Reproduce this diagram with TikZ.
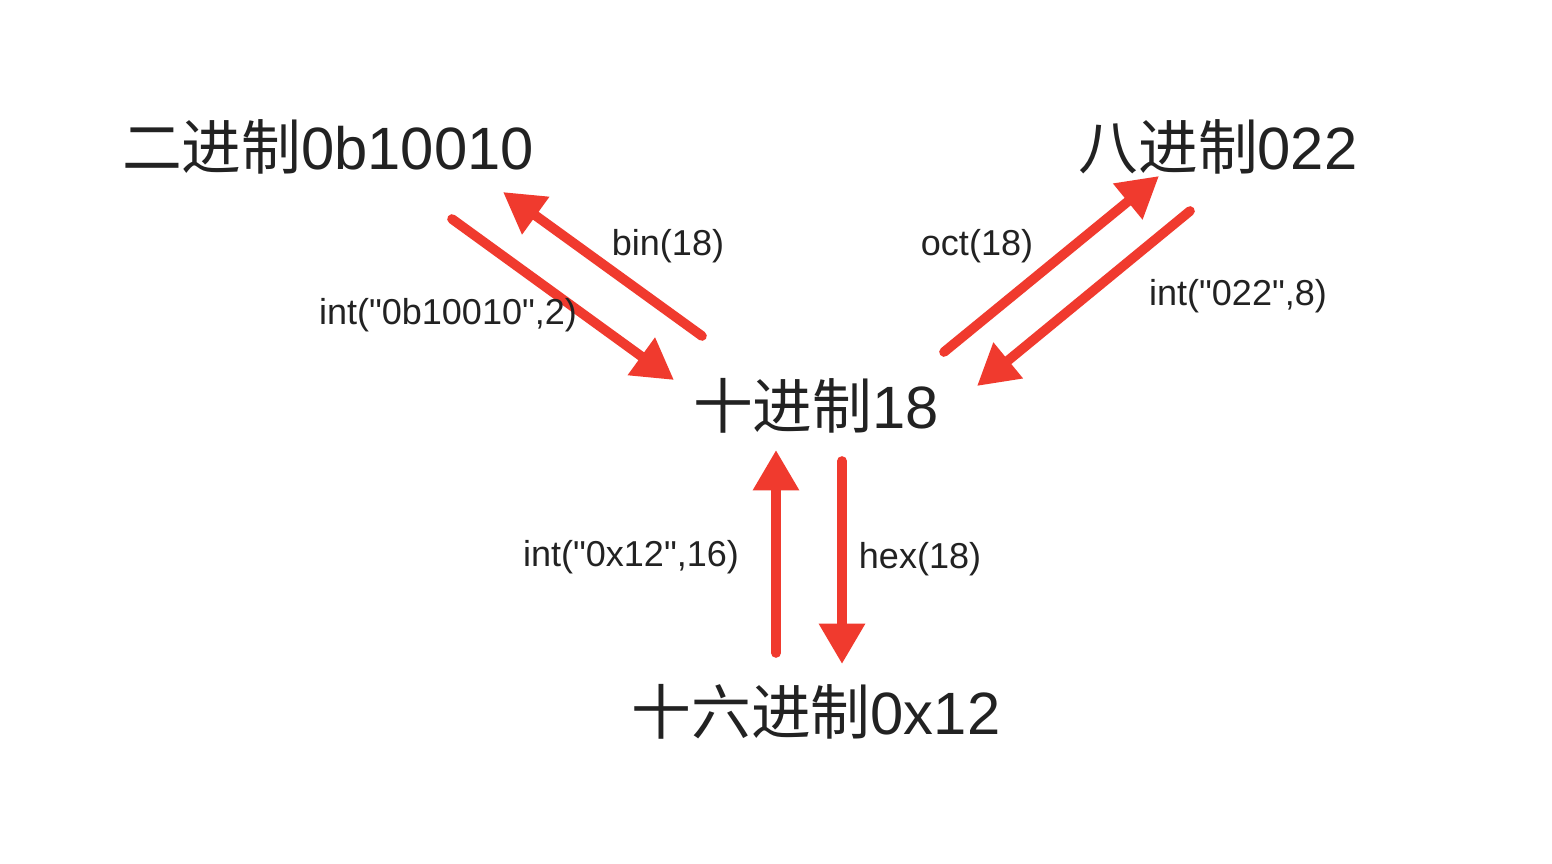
\documentclass[tikz,border=0pt]{standalone}
\usepackage{fontspec}
\setmainfont{Liberation Sans}
\newfontfamily\plainfont{Liberation Sans}
\newfontfamily\cjk{Noto Sans CJK SC}
\usetikzlibrary{arrows.meta}
\definecolor{arrowred}{HTML}{F03A2E}
\definecolor{txt}{HTML}{222222}
\tikzset{
  bigtext/.style={text=txt, inner sep=0pt, font=\fontsize{34}{40}\selectfont},
  lbl/.style={text=txt, inner sep=0pt, font=\plainfont\fontsize{20.5}{24}\selectfont},
  conv/.style={draw=arrowred, line width=5.5pt, line cap=round,
    -{Triangle[length=23pt,width=25pt]}}
}
\begin{document}
\begin{tikzpicture}[x=0.02cm,y=-0.02cm]
\useasboundingbox[fill=white] (0,0) rectangle (1552,863);
% main nodes
\node[bigtext] (bin) at (328,147) {{\cjk 二进制}0b10010};
\node[bigtext] (oct) at (1218,147) {{\cjk 八进制}022};
\node[bigtext] (dec) at (816,406) {{\cjk 十进制}18};
\node[bigtext] (hex) at (816,712) {{\cjk 十六进制}0x12};
% arrow end points
\coordinate (b1s) at (452,219);
\coordinate (b1e) at (674,380);
\coordinate (b2s) at (702,336);
\coordinate (b2e) at (503,192);
\coordinate (o1s) at (944,352);
\coordinate (o1e) at (1159,176);
\coordinate (o2s) at (1190,211);
\coordinate (o2e) at (977,386);
\coordinate (h1s) at (776,653);
\coordinate (h1e) at (776,450);
\coordinate (h2s) at (842,461);
\coordinate (h2e) at (842,664);
% arrows
\draw[conv] (b1s) -- (b1e);
\draw[conv] (b2s) -- (b2e);
\draw[conv] (o1s) -- (o1e);
\draw[conv] (o2s) -- (o2e);
\draw[conv] (h1s) -- (h1e);
\draw[conv] (h2s) -- (h2e);
% labels
\node[lbl] (lbin) at (668,246) {bin(18)};
\node[lbl] (lintb) at (448,315) {int("0b10010",2)};
\node[lbl] (loct) at (977,246) {oct(18)};
\node[lbl] (linto) at (1238,296) {int("022",8)};
\node[lbl] (linth) at (631,557) {int("0x12",16)};
\node[lbl] (lhex) at (920,559) {hex(18)};
\end{tikzpicture}
\end{document}
